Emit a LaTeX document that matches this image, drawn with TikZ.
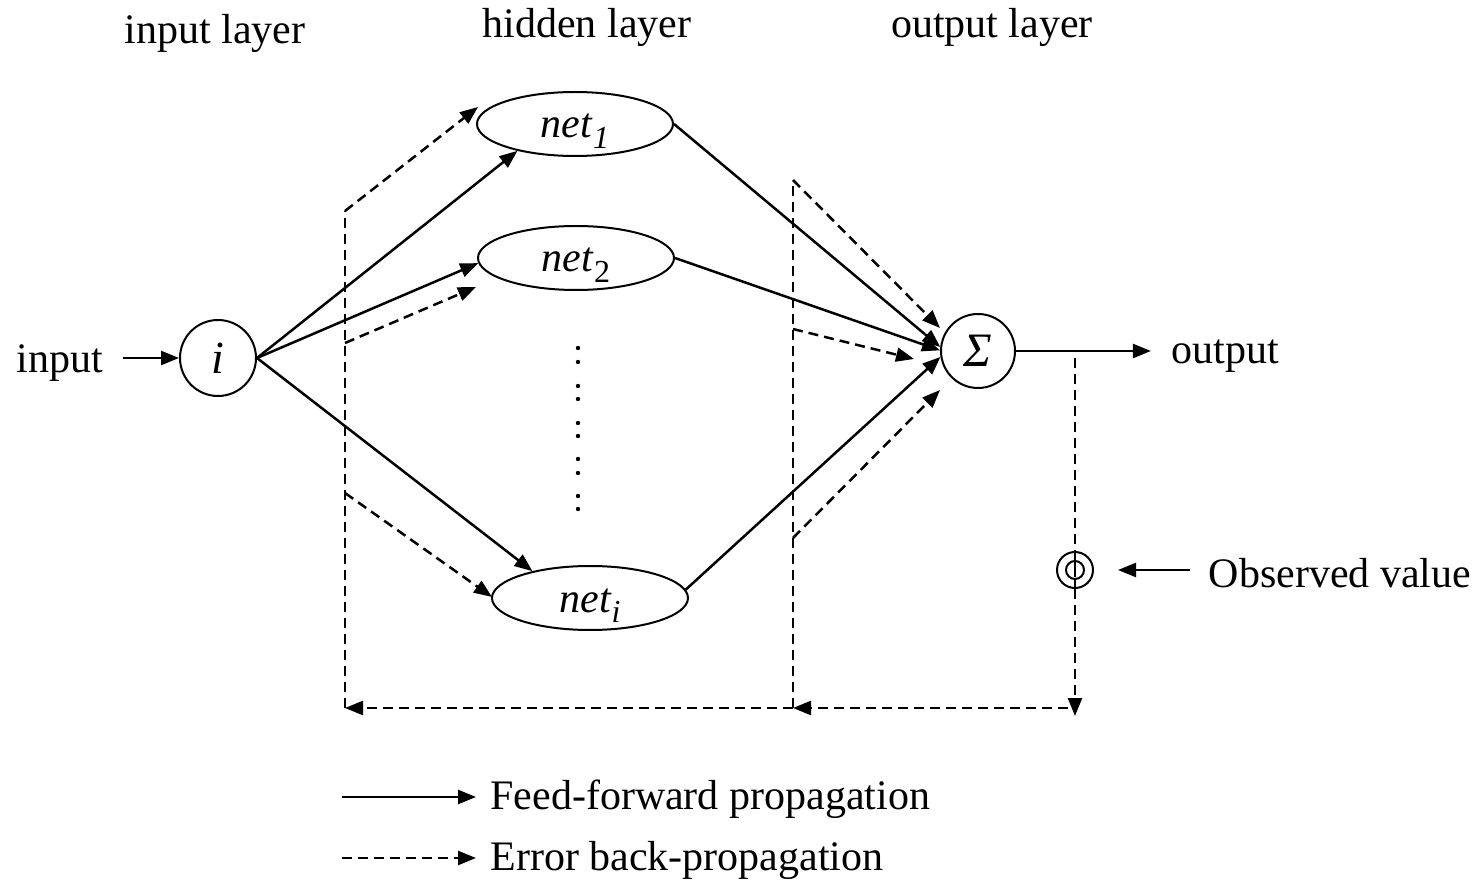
\documentclass[tikz,border=0pt]{standalone}
\usepackage{fontspec}
\setmainfont{Liberation Serif}
\usetikzlibrary{arrows.meta,shapes.geometric}
\newcommand\subsc[1]{\raisebox{-0.55ex}{\fontsize{16}{16}\selectfont #1}}
\newcommand\netlbl[1]{\raisebox{-7pt}[0pt][0pt]{\textit{net}\subsc{#1}}}
\begin{document}
\begin{tikzpicture}[x=0.5pt,y=-0.5pt,
  font=\fontsize{21}{25}\selectfont,
  tiptri/.style={-{Triangle[length=9pt,width=7pt]}},
  ff/.style={line width=1.25pt, tiptri},
  bp/.style={line width=1.25pt, dash pattern=on 5pt off 3pt, tiptri},
  bpl/.style={line width=1.25pt, dash pattern=on 5pt off 3pt},
  neuron/.style={draw, circle, line width=1pt, minimum size=38pt, inner sep=0pt},
  hid/.style={draw, ellipse, line width=1pt, minimum width=98pt, minimum height=32pt, inner sep=0pt},
  txt/.style={inner sep=0pt}]
\path[use as bounding box] (0,0) rectangle (1480,882);

% layer titles
\node[txt] (tin) at (215,33) {input layer};
\node[txt] (thid) at (587,27) {hidden layer};
\node[txt] (tout) at (992,27) {output layer};

% neurons
\node[neuron] (i) at (218,358) {\fontsize{23}{25}\selectfont\textit{i}};
\node[hid] (n1) at (575,124) {\netlbl{\textit{1}}};
\node[hid] (n2) at (576,258) {\netlbl{2}};
\node[hid] (ni) at (590,598) {\netlbl{\textit{i}}};
\node[neuron, minimum size=37pt] (s) at (978,351) {\fontsize{24}{26}\selectfont\textit{Σ}};

% dots
\foreach \yy in {348,362,386,399,423,436,459,473,496,509}
  \fill (578,\yy) circle (1.1pt);

% input / output texts
\node[txt] (input) at (60,363) {input};
\node[txt] (output) at (1225,356) {output};
\node[txt] (obstxt) at (1340,573) {Observed value};

% observed value symbol
\node[draw, circle, line width=1pt, minimum size=18pt, inner sep=0pt] (obs) at (1075,570) {};
\draw[line width=1pt] (obs.center) circle (4.5pt);
\draw[line width=1pt] (obs.north) -- ([yshift=-3.5pt]obs.center);
\draw[line width=1pt] ([yshift=-4.5pt]obs.center) -- (obs.south);

% feed-forward
\draw[ff, shorten <=9.5pt] (input.east |- i.west) -- (i.west);
\draw[ff] (i.east) -- (n1.205);
\draw[ff] (i.east) -- (n2.183);
\draw[ff] (i.east) -- (ni.155);
\draw[ff] (n1.east) -- (s.174);
\draw[ff] (n2.east) -- (s.179);
\draw[ff] (ni.5) -- (s.189);
\draw[ff, shorten >=10pt] (s.east) -- (s.east -| output.west);
\draw[ff, shorten <=9pt, shorten >=12pt] (obstxt.west |- obs.east) -- (obs.east);

% back-propagation coordinates
\coordinate (tap) at (1075,358);
\coordinate (br) at (1075,716);
\coordinate (bh) at (1068,708);
\coordinate (mid) at (793,708);
\coordinate (left) at (345,708);
\coordinate (rtop) at (793,180);
\coordinate (rmid) at (793,329);
\coordinate (rlow) at (793,538);
\coordinate (ltop) at (345,211);
\coordinate (lmid) at (345,343);
\coordinate (llow) at (345,493);
\coordinate (sa) at (940,328);
\coordinate (sb) at (914,359);
\coordinate (sc) at (940,390);
\coordinate (na) at (478,107);
\coordinate (nb) at (476,287);
\coordinate (nc) at (492,597);

\draw[bpl] (tap) -- (obs.north);
\draw[bp] (obs.south) -- (br);
\draw[bp] (bh) -- (mid);
\draw[bp] (mid) -- (left);
\draw[bpl] (mid) -- (rtop);
\draw[bpl] (left) -- (ltop);
\draw[bp] (rtop) -- (sa);
\draw[bp] (rmid) -- (sb);
\draw[bp] (rlow) -- (sc);
\draw[bp] (ltop) -- (na);
\draw[bp] (lmid) -- (nb);
\draw[bp] (llow) -- (nc);

% legend
\node[txt, anchor=base west] (leg1) at (490,809) {Feed-forward propagation};
\node[txt, anchor=base west] (leg2) at (490,870) {Error back-propagation};
\coordinate (l1) at (342,797);
\coordinate (l2) at (342,858);
\draw[ff, shorten >=7pt] (l1) -- (l1 -| leg1.west);
\draw[bp, shorten >=7pt] (l2) -- (l2 -| leg2.west);
\end{tikzpicture}
\end{document}
